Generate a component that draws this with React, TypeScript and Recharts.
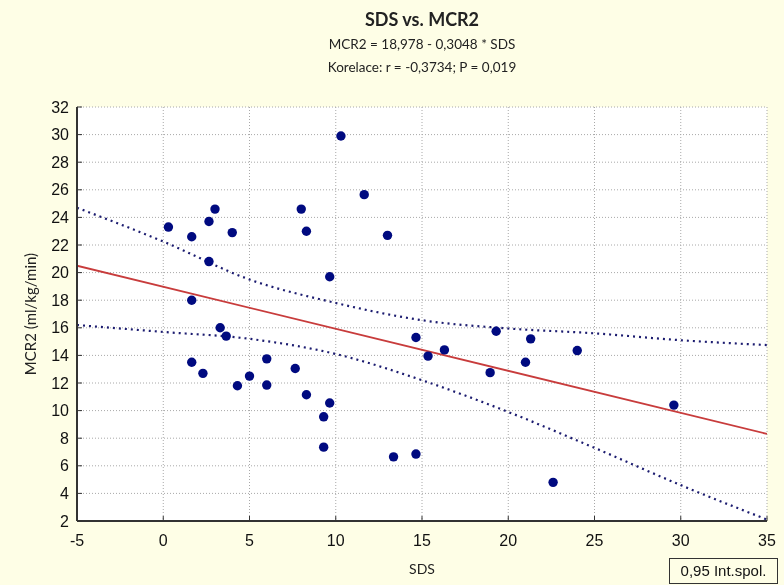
import {
  ComposedChart,
  Scatter,
  Line,
  XAxis,
  YAxis,
  CartesianGrid,
} from "recharts"

const sds = [
  0.3, 1.65, 2.65, 3.0, 4.0, 2.65, 1.65, 3.3, 3.65, 1.65, 2.3, 4.3, 5.0, 10.3, 11.65, 8.0, 8.3,
  13.0, 9.65, 19.3, 14.65, 6.0, 6.0, 7.65, 8.3, 9.65, 9.3, 9.3, 13.35, 14.65, 15.35, 16.3, 18.95,
  21.0, 21.3, 24.0, 29.6, 22.6,
]
const mcr2 = [
  23.3, 22.6, 23.7, 24.6, 22.9, 20.8, 18.0, 16.0, 15.4, 13.5, 12.7, 11.8, 12.5, 29.9, 25.65, 24.6,
  23.0, 22.7, 19.7, 15.75, 15.3, 13.75, 11.85, 13.05, 11.15, 10.55, 9.55, 7.35, 6.65, 6.85, 13.95,
  14.4, 12.75, 13.5, 15.2, 14.35, 10.4, 4.8,
]

// regression line end points
const fitX = [-5, 35]
const fitY = [20.5, 8.31]

// 0,95 confidence band
const bandX = [-5, 0, 5, 10, 15, 20, 25, 30, 35]
const bandUpper = [24.7, 22.25, 19.5, 17.8, 16.55, 15.95, 15.6, 15.1, 14.75]
const bandLower = [16.2, 15.7, 15.2, 14.1, 12.2, 9.9, 7.3, 4.6, 2.1]

const xTicks = [-5, 0, 5, 10, 15, 20, 25, 30, 35]
const yTicks = [2, 4, 6, 8, 10, 12, 14, 16, 18, 20, 22, 24, 26, 28, 30, 32]

const BG = "#fefee6"
const AXIS = "#333333"
const DOT = "#000a80"
const BAND = "#1c1c70"
const FIT = "#c83c3c"

const points = sds.map((x, i) => ({ x, y: mcr2[i] }))
const fitData = fitX.map((x, i) => ({ x, y: fitY[i] }))
const upperData = bandX.map((x, i) => ({ x, y: bandUpper[i] }))
const lowerData = bandX.map((x, i) => ({ x, y: bandLower[i] }))

const tickFont = { fill: "#111", fontSize: 16, fontFamily: "Liberation Sans, Arial" }
const labelFont = "Lato, 'Open Sans', sans-serif"

const centered = (top: number, size: number, bold = false) => ({
  position: "absolute" as const,
  left: 0,
  width: 844,
  top,
  textAlign: "center" as const,
  fontSize: size,
  fontWeight: bold ? 700 : 400,
  lineHeight: "20px",
})

export default function App() {
  return (
    <div
      style={{
        position: "fixed",
        left: 0,
        top: 0,
        width: 784,
        height: 585,
        background: BG,
        fontFamily: labelFont,
        color: "#222",
      }}
    >
      <div style={centered(9, 18, true)}>SDS vs. MCR2</div>
      <div style={centered(34, 13.5)}>MCR2 = 18,978 - 0,3048 * SDS</div>
      <div style={centered(57, 13.5)}>Korelace: r = -0,3734; P = 0,019</div>

      <ComposedChart
        width={784}
        height={585}
        margin={{ top: 107, right: 17, bottom: 0, left: 0 }}
        style={{ position: "absolute", left: 0, top: 0 }}
      >
        <CartesianGrid
          fill="#ffffff"
          stroke="#a8a8a8"
          strokeDasharray="1 2"
          horizontalValues={yTicks}
          verticalValues={xTicks}
        />
        <XAxis
          dataKey="x"
          type="number"
          domain={[-5, 35]}
          ticks={xTicks}
          allowDataOverflow
          height={64}
          stroke={AXIS}
          axisLine={{ stroke: AXIS, strokeWidth: 2 }}
          tickSize={-5}
          tickMargin={19}
          tick={tickFont}
        />
        <XAxis
          xAxisId="top"
          orientation="top"
          type="number"
          domain={[-5, 35]}
          ticks={xTicks}
          allowDataOverflow
          height={0}
          axisLine={{ stroke: AXIS, strokeWidth: 2 }}
          tickLine={{ stroke: AXIS }}
          tickSize={-5}
          tick={false}
        />
        <YAxis
          type="number"
          domain={[2, 32]}
          ticks={yTicks}
          allowDataOverflow
          width={77}
          stroke={AXIS}
          axisLine={{ stroke: AXIS, strokeWidth: 2 }}
          tickSize={-5}
          tickMargin={13}
          tick={tickFont}
        />
        <YAxis
          yAxisId="right"
          orientation="right"
          type="number"
          domain={[2, 32]}
          ticks={yTicks}
          allowDataOverflow
          width={0}
          axisLine={{ stroke: AXIS, strokeWidth: 2 }}
          tickLine={{ stroke: AXIS }}
          tickSize={-5}
          tick={false}
        />
        <Line
          data={upperData}
          dataKey="y"
          type="monotone"
          stroke={BAND}
          strokeWidth={2.2}
          strokeDasharray="2 4"
          dot={false}
          activeDot={false}
          isAnimationActive={false}
        />
        <Line
          data={lowerData}
          dataKey="y"
          type="monotone"
          stroke={BAND}
          strokeWidth={2.2}
          strokeDasharray="2 4"
          dot={false}
          activeDot={false}
          isAnimationActive={false}
        />
        <Line
          data={fitData}
          dataKey="y"
          type="linear"
          stroke={FIT}
          strokeWidth={1.8}
          dot={false}
          activeDot={false}
          isAnimationActive={false}
        />
        <Scatter
          data={points}
          dataKey="y"
          isAnimationActive={false}
          shape={(p: any) => <circle cx={p.cx} cy={p.cy} r={4.7} fill={DOT} />}
        />
      </ComposedChart>

      <div
        style={{
          position: "absolute",
          left: 30,
          top: 314,
          transform: "translate(-50%, -50%) rotate(-90deg)",
          fontSize: 15,
          whiteSpace: "nowrap",
        }}
      >
        MCR2 (ml/kg/min)
      </div>
      <div style={centered(559, 14)}>SDS</div>
      <div
        style={{
          position: "absolute",
          left: 669,
          top: 558,
          width: 107,
          height: 24,
          border: "1.5px solid #333",
          fontFamily: "Liberation Sans, Arial",
          fontSize: 15,
          lineHeight: "24px",
          textAlign: "center",
          color: "#111",
        }}
      >
        0,95 Int.spol.
      </div>
    </div>
  )
}
